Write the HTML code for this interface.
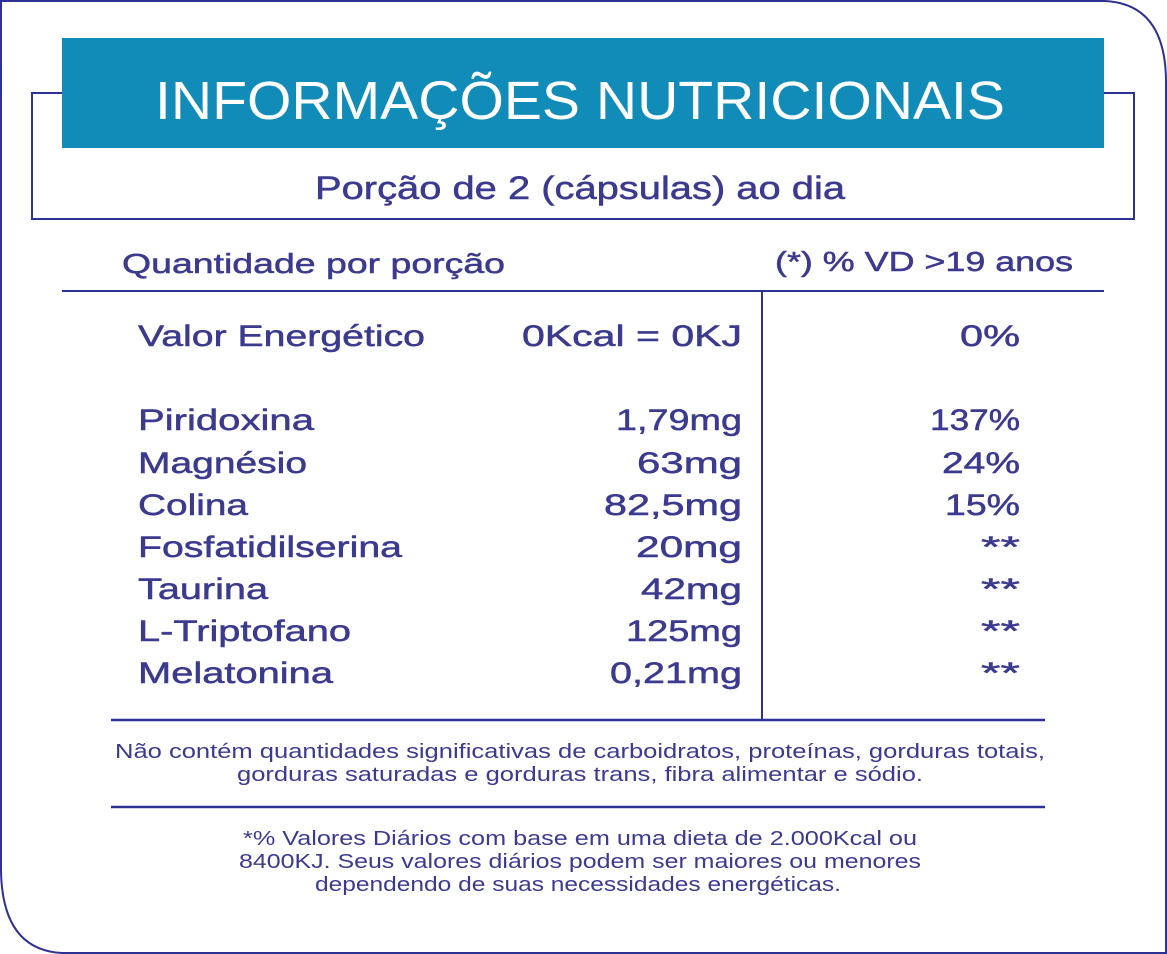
<!DOCTYPE html>
<html><head><meta charset="utf-8"><style>
html,body{margin:0;padding:0;background:#fff;}
svg{display:block;}
text{font-family:"Liberation Sans",sans-serif;fill:#3b3a8f;}
.r text{stroke:#3b3a8f;stroke-width:0.5;}
</style></head><body>
<svg width="1167" height="954" viewBox="0 0 1167 954" xmlns="http://www.w3.org/2000/svg">
<path d="M1,1 H1105 Q1165,4 1166,80 V953 H62 Q2,950 1,870 Z" fill="#fff" stroke="#2e3192" stroke-width="2"/>
<path d="M62,93 H32 V219 H1134 V93 H1104" fill="none" stroke="#2e3192" stroke-width="2"/>
<rect x="62" y="38" width="1042" height="110" fill="#118bb7"/>
<text x="155" y="119" font-size="54" textLength="850" lengthAdjust="spacingAndGlyphs" style="fill:#fff">INFORMAÇÕES NUTRICIONAIS</text>
<g class="r">
<text x="315" y="199" font-size="32" textLength="530" lengthAdjust="spacingAndGlyphs">Porção de 2 (cápsulas) ao dia</text>
<text x="122" y="273" font-size="28" textLength="383" lengthAdjust="spacingAndGlyphs">Quantidade por porção</text>
<text x="775" y="271" font-size="28" textLength="298" lengthAdjust="spacingAndGlyphs">(*) % VD  &gt;19 anos</text>
</g>
<line x1="62" y1="291" x2="1104" y2="291" stroke="#2e3192" stroke-width="2"/>
<line x1="762" y1="291" x2="762" y2="720" stroke="#2e3192" stroke-width="2"/>
<line x1="111" y1="720" x2="1045" y2="720" stroke="#2e3192" stroke-width="2.5"/>
<line x1="111" y1="807" x2="1045" y2="807" stroke="#2e3192" stroke-width="2.5"/>
<g font-size="30" class="r" lengthAdjust="spacingAndGlyphs">
<text x="138" y="346" textLength="287" lengthAdjust="spacingAndGlyphs">Valor Energético</text>
<text x="522" y="346" textLength="220" lengthAdjust="spacingAndGlyphs">0Kcal = 0KJ</text>
<text x="960" y="346" textLength="60" lengthAdjust="spacingAndGlyphs">0%</text>
<text x="138" y="430" textLength="176" lengthAdjust="spacingAndGlyphs">Piridoxina</text><text x="616" y="430" textLength="126" lengthAdjust="spacingAndGlyphs">1,79mg</text><text x="930" y="430" textLength="90" lengthAdjust="spacingAndGlyphs">137%</text>
<text x="138" y="473" textLength="169" lengthAdjust="spacingAndGlyphs">Magnésio</text><text x="637" y="473" textLength="105" lengthAdjust="spacingAndGlyphs">63mg</text><text x="942" y="473" textLength="78" lengthAdjust="spacingAndGlyphs">24%</text>
<text x="138" y="515" textLength="110" lengthAdjust="spacingAndGlyphs">Colina</text><text x="604" y="515" textLength="138" lengthAdjust="spacingAndGlyphs">82,5mg</text><text x="945" y="515" textLength="75" lengthAdjust="spacingAndGlyphs">15%</text>
<text x="138" y="557" textLength="264" lengthAdjust="spacingAndGlyphs">Fosfatidilserina</text><text x="636" y="557" textLength="106" lengthAdjust="spacingAndGlyphs">20mg</text><text x="981" y="557" textLength="39" lengthAdjust="spacingAndGlyphs">**</text>
<text x="138" y="599" textLength="130" lengthAdjust="spacingAndGlyphs">Taurina</text><text x="641" y="599" textLength="101" lengthAdjust="spacingAndGlyphs">42mg</text><text x="981" y="599" textLength="39" lengthAdjust="spacingAndGlyphs">**</text>
<text x="138" y="641" textLength="213" lengthAdjust="spacingAndGlyphs">L-Triptofano</text><text x="626" y="641" textLength="116" lengthAdjust="spacingAndGlyphs">125mg</text><text x="981" y="641" textLength="39" lengthAdjust="spacingAndGlyphs">**</text>
<text x="138" y="683" textLength="195" lengthAdjust="spacingAndGlyphs">Melatonina</text><text x="610" y="683" textLength="132" lengthAdjust="spacingAndGlyphs">0,21mg</text><text x="981" y="683" textLength="39" lengthAdjust="spacingAndGlyphs">**</text>
</g>
<g font-size="20" text-anchor="middle">
<text x="580" y="758" textLength="930" lengthAdjust="spacingAndGlyphs">Não contém quantidades significativas de carboidratos, proteínas, gorduras totais,</text>
<text x="580" y="781" textLength="686" lengthAdjust="spacingAndGlyphs">gorduras saturadas e gorduras trans, fibra alimentar e sódio.</text>
<text x="580" y="845" textLength="674" lengthAdjust="spacingAndGlyphs">*% Valores Diários com base em uma dieta de 2.000Kcal ou</text>
<text x="580" y="868" textLength="682" lengthAdjust="spacingAndGlyphs">8400KJ. Seus valores diários podem ser maiores ou menores</text>
<text x="578" y="891" textLength="526" lengthAdjust="spacingAndGlyphs">dependendo de suas necessidades energéticas.</text>
</g>
</svg>
</body></html>
